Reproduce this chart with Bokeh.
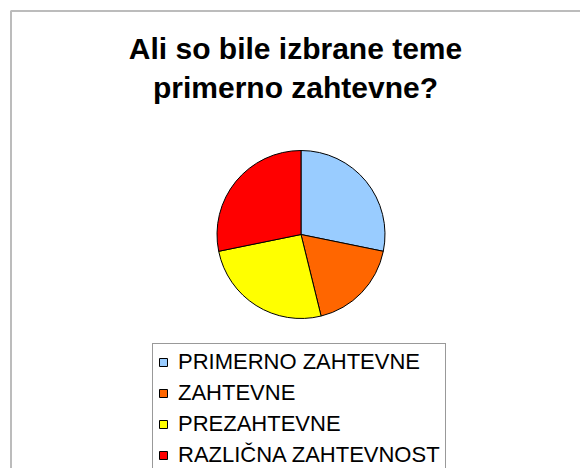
import numpy as np
from bokeh.plotting import figure
from bokeh.models import Range1d, Label, Legend, LegendItem, BoxAnnotation, ColumnDataSource
from bokeh.embed import file_html
from bokeh.resources import INLINE

# data
categories = ["PRIMERNO ZAHTEVNE", "ZAHTEVNE", "PREZAHTEVNE", "RAZLIČNA ZAHTEVNOST"]
counts = [11, 7, 10, 11]
colors = ["#99CCFF", "#FF6600", "#FFFF00", "#FF0000"]
title_lines = ["Ali so bile izbrane teme", "primerno zahtevne?"]

W, H = 580, 468
p = figure(width=W, height=H, output_backend="svg", toolbar_location=None,
           x_range=Range1d(0, W), y_range=Range1d(0, H), min_border=0)
p.axis.visible = False
p.grid.visible = False
p.outline_line_color = None
p.background_fill_color = "white"

# chart area border (extends past the window at right/bottom)
p.add_layout(BoxAnnotation(left=10.5, right=W + 50, top=H - 10.5, bottom=-50,
                           fill_alpha=0, line_color="#222222", line_width=2))

vals = np.array(counts, dtype=float)
frac = vals / vals.sum()
cum = np.cumsum(frac)
start = np.pi / 2 - np.concatenate([[0], cum[:-1]]) * 2 * np.pi
end = np.pi / 2 - cum * 2 * np.pi

cx, cy, r = 300.5, 234, 84
src = ColumnDataSource(dict(x=[cx] * len(vals), y=[cy] * len(vals), start=start, end=end,
                            color=colors, cat=categories))
wr = p.wedge(x="x", y="y", radius=r, radius_units="screen", start_angle="start", end_angle="end",
             direction="clock", fill_color="color", line_color="black", line_width=1, source=src)

for txt, yy in zip(title_lines, [H - 47.5, H - 86.5]):
    p.add_layout(Label(x=295, y=yy, text=txt, text_align="center", text_baseline="alphabetic",
                       text_font="Liberation Sans", text_font_style="bold", text_font_size="30px",
                       text_color="black"))

items = [LegendItem(label=c, renderers=[wr], index=i) for i, c in enumerate(categories)]
legend = Legend(items=items, location=(152, -6), orientation="vertical",
                label_text_font="Liberation Sans", label_text_font_size="22px",
                label_text_color="black", glyph_width=10, glyph_height=10,
                label_height=25, spacing=5, padding=5, margin=0, label_standoff=10,
                border_line_color="#333333", border_line_width=1,
                background_fill_color="white", background_fill_alpha=1)
p.add_layout(legend)

open("out.html", "w").write(file_html(p, INLINE))
